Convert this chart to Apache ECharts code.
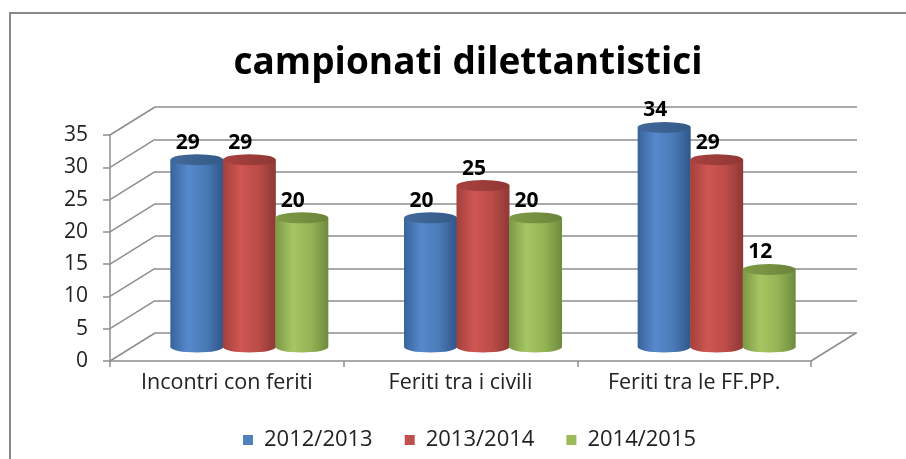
<!DOCTYPE html>
<html>
<head>
<meta charset="utf-8">
<script src="https://cdn.jsdelivr.net/npm/echarts@6/dist/echarts.min.js"></script>
<style>
  html, body { margin: 0; padding: 0; background: #fff; }
  #container { width: 906px; height: 459px; }
</style>
</head>
<body>
<div id="container"></div>
<script>
// dati del grafico
var categories = ['Incontri con feriti', 'Feriti tra i civili', 'Feriti tra le FF.PP.'];
var seriesNames = ['2012/2013', '2013/2014', '2014/2015'];
var values2012 = [29, 20, 34];
var values2013 = [29, 25, 29];
var values2014 = [20, 20, 12];
var yTicks = [0, 5, 10, 15, 20, 25, 30, 35];

// colori (palette Office)
var baseColors = ['#4F81BD', '#C0504D', '#9BBB59'];
var bodyStops = [
    ['#37639b', '#5689cc', '#4a7bb8', '#2f5688'],
    ['#a3403d', '#cf5652', '#bb4c48', '#8e3835'],
    ['#7c9746', '#a6c663', '#94b456', '#6f8a3d']
];
var topColors = [
    ['#42699a', '#345a87'],
    ['#a9423f', '#8f3734'],
    ['#7f9b46', '#6b853a']
];

// profondità prospettica 3D (pareti e pavimento)
var DEPTH_X = 45, DEPTH_Y = -28;
var BAR_W = 53, BAR_STEP = 52.5, ELL_RY = 5.5;
var FONT = "'Open Sans', 'Liberation Sans', sans-serif";
var LINE_COLOR = '#8e8e8e';

var dom = document.getElementById('container');
var myChart = echarts.init(dom, null, { renderer: 'canvas' });

function lg(stops) {
    var n = stops.length;
    return new echarts.graphic.LinearGradient(0, 0, 1, 0, stops.map(function (c, i) {
        return { offset: i / (n - 1), color: c };
    }));
}

// cilindro per ogni serie
function cylinderRender(sIdx) {
    return function (params, api) {
        var cat = api.value(0), val = api.value(1);
        var base = api.coord([cat, 0]);
        var top = api.coord([cat, val]);
        var cx = base[0] + (sIdx - 1) * BAR_STEP + DEPTH_X / 2;
        var yb = base[1] + DEPTH_Y / 2;
        var yt = top[1] + DEPTH_Y / 2;
        var rx = BAR_W / 2;
        var body = lg(bodyStops[sIdx]);
        return {
            type: 'group',
            children: [
                { type: 'circle', x: cx, y: yb, scaleY: ELL_RY / rx, shape: { cx: 0, cy: 0, r: rx }, style: { fill: body } },
                { type: 'rect', shape: { x: cx - rx, y: yt, width: BAR_W, height: yb - yt }, style: { fill: body } },
                { type: 'circle', x: cx, y: yt, scaleY: ELL_RY / rx, shape: { cx: 0, cy: 0, r: rx }, style: { fill: lg(topColors[sIdx]) } },
                {
                    type: 'text', x: cx - 9, y: yt - 17,
                    style: { text: String(val), align: 'center', verticalAlign: 'middle', fill: '#000', font: 'bold 21px ' + FONT }
                }
            ]
        };
    };
}

// linee diagonali della parete laterale + bordo destro del pavimento
function wallRender(params, api) {
    var cs = params.coordSys;
    var v = api.value(0);
    var p = api.coord([0, v]);
    var children = [{
        type: 'line',
        shape: { x1: cs.x, y1: p[1], x2: cs.x + DEPTH_X, y2: p[1] + DEPTH_Y },
        style: { stroke: LINE_COLOR, lineWidth: 1.5 }
    }];
    if (v === 0) {
        children.push({
            type: 'line',
            shape: { x1: cs.x + cs.width, y1: p[1], x2: cs.x + cs.width + DEPTH_X, y2: p[1] + DEPTH_Y },
            style: { stroke: LINE_COLOR, lineWidth: 1.5 }
        });
    }
    return { type: 'group', children: children };
}

var allValues = [values2012, values2013, values2014];

var option = {
    animation: false,
    backgroundColor: '#fff',
    title: {
        text: 'campionati dilettantistici',
        left: 463,
        top: 40,
        textAlign: 'center',
        textStyle: { fontFamily: FONT, fontWeight: 'bold', fontSize: 37, color: '#000' }
    },
    legend: {
        data: seriesNames,
        left: 238,
        top: 424,
        itemWidth: 10,
        itemHeight: 10,
        itemGap: 32,
        icon: 'rect',
        textStyle: { fontFamily: FONT, fontSize: 22, color: '#222', padding: [0, 0, 0, 6] }
    },
    graphic: [{
        type: 'polyline',
        shape: { points: [[10, 459], [10, 13], [906, 13]] },
        style: { stroke: '#8a8a8a', lineWidth: 2, fill: null }
    }],
    grid: [
        // piano frontale
        { left: 110, top: 135, width: 701, height: 226 },
        // parete di fondo
        { left: 155, top: 107, width: 702, height: 226 }
    ],
    xAxis: [{
        type: 'category',
        gridIndex: 0,
        data: categories,
        axisLine: { lineStyle: { color: LINE_COLOR, width: 1.5 } },
        axisTick: { show: true, length: 6, lineStyle: { color: LINE_COLOR, width: 1.5 } },
        axisLabel: { fontFamily: FONT, fontSize: 21.5, color: '#222', margin: 11 }
    }, {
        type: 'category',
        gridIndex: 1,
        data: categories,
        show: false
    }],
    yAxis: [{
        type: 'value',
        gridIndex: 0,
        min: 0,
        max: 35,
        interval: 5,
        axisLine: { show: true, lineStyle: { color: LINE_COLOR, width: 1.5 } },
        axisTick: { show: true, length: 7, lineStyle: { color: LINE_COLOR, width: 1.5 } },
        axisLabel: { fontFamily: FONT, fontSize: 21, color: '#222', margin: 22 },
        splitLine: { show: false }
    }, {
        type: 'value',
        gridIndex: 1,
        min: 0,
        max: 35,
        interval: 5,
        axisLine: { show: false },
        axisTick: { show: false },
        axisLabel: { show: false },
        splitLine: { show: true, lineStyle: { color: LINE_COLOR, width: 1.5 } }
    }],
    series: [{
        type: 'custom',
        name: 'pareti',
        xAxisIndex: 0,
        yAxisIndex: 0,
        renderItem: wallRender,
        data: yTicks.map(function (v) { return [v]; }),
        encode: { y: 0 },
        silent: true,
        clip: false,
        z: 1
    }].concat(seriesNames.map(function (name, i) {
        return {
            type: 'custom',
            name: name,
            xAxisIndex: 0,
            yAxisIndex: 0,
            itemStyle: { color: baseColors[i] },
            renderItem: cylinderRender(i),
            data: allValues[i].map(function (v, c) { return [c, v]; }),
            encode: { x: 0, y: 1 },
            clip: false,
            z: 3 + i
        };
    }))
};

if (option && typeof option === 'object') {
    myChart.setOption(option, true);
}
</script>
</body>
</html>
